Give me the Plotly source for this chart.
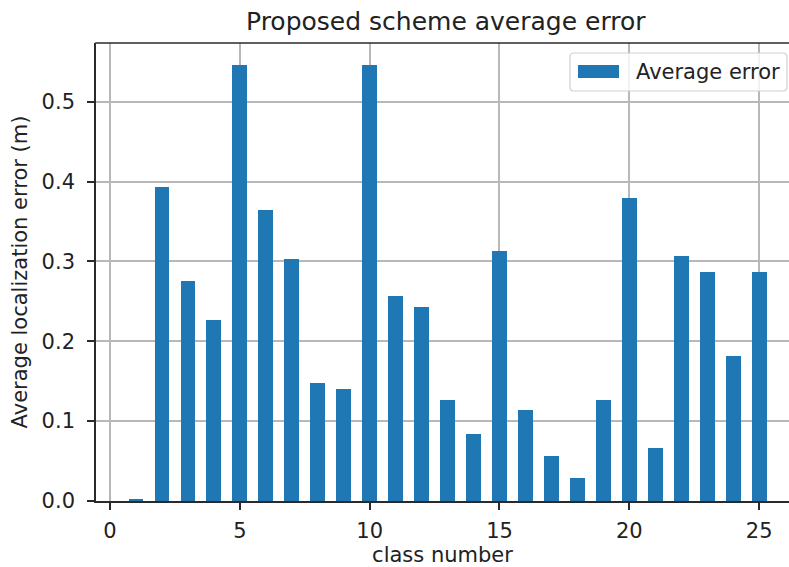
import plotly.graph_objects as go

# Average localization error per class
class_numbers = list(range(1, 26))
avg_error = [0.003, 0.393, 0.276, 0.227, 0.546, 0.364, 0.303, 0.148, 0.140, 0.546,
             0.257, 0.243, 0.127, 0.084, 0.313, 0.114, 0.056, 0.029, 0.127, 0.379,
             0.066, 0.307, 0.287, 0.182, 0.287]
x_ticks = [0, 5, 10, 15, 20, 25]
y_ticks = [0.0, 0.1, 0.2, 0.3, 0.4, 0.5]

W, H = 789, 567
L, R, T, B = 96, 0, 43, 66
PW, PH = W - L - R, H - T - B
FONT = "DejaVu Sans"
TXT = "#222222"
BLUE = "#1f77b4"
AXIS = "#2a2a2a"
FS = 21


def px(xp):
    return (xp - L) / PW


def py(yp):
    return (H - B - yp) / PH


def rounded_rect(x0, y0, x1, y1, r):
    # SVG path in paper coordinates for a rectangle with rounded corners (pixel inputs)
    pts = [
        f"M {px(x0 + r)} {py(y0)}",
        f"L {px(x1 - r)} {py(y0)}",
        f"Q {px(x1)} {py(y0)} {px(x1)} {py(y0 + r)}",
        f"L {px(x1)} {py(y1 - r)}",
        f"Q {px(x1)} {py(y1)} {px(x1 - r)} {py(y1)}",
        f"L {px(x0 + r)} {py(y1)}",
        f"Q {px(x0)} {py(y1)} {px(x0)} {py(y1 - r)}",
        f"L {px(x0)} {py(y0 + r)}",
        f"Q {px(x0)} {py(y0)} {px(x0 + r)} {py(y0)}",
        "Z",
    ]
    return " ".join(pts)


fig = go.Figure()
fig.add_trace(go.Bar(
    x=class_numbers, y=avg_error, width=0.57,
    marker=dict(color=BLUE, line=dict(width=0)),
    name="Average error", showlegend=False,
))

fig.update_layout(
    width=W, height=H,
    margin=dict(l=L, r=R, t=T, b=B, pad=0),
    paper_bgcolor="white", plot_bgcolor="white",
    font=dict(family=FONT, size=FS, color=TXT),
    bargap=0,
)

fig.update_xaxes(
    range=[-0.54, 26.15], tickvals=x_ticks, ticktext=[str(v) for v in x_ticks],
    showgrid=True, gridcolor="#b8b8b8", gridwidth=1.5,
    showline=True, linecolor=AXIS, linewidth=1.6, mirror=False,
    ticks="outside", ticklen=7, tickwidth=1.5, tickcolor=AXIS,
    ticklabelstandoff=3, zeroline=False,
    tickfont=dict(family=FONT, size=FS, color=TXT),
    title=dict(text="class number", font=dict(family=FONT, size=FS, color=TXT), standoff=2),
)
fig.update_yaxes(
    range=[0, 0.5735], tickvals=y_ticks, ticktext=[f"{v:.1f}" for v in y_ticks],
    showgrid=True, gridcolor="#b8b8b8", gridwidth=1.5,
    showline=True, linecolor=AXIS, linewidth=1.6, mirror=False,
    ticks="outside", ticklen=7, tickwidth=1.5, tickcolor=AXIS,
    ticklabelstandoff=8, zeroline=False,
    tickfont=dict(family=FONT, size=FS, color=TXT),
    title=dict(text="Average localization error (m)", font=dict(family=FONT, size=FS, color=TXT), standoff=8),
)

# Top spine (the right spine falls outside the page)
fig.add_shape(
    type="line", xref="paper", yref="paper",
    x0=px(L - 0.8), x1=1.0, y0=1.0, y1=1.0,
    line=dict(color=AXIS, width=1.6),
)

# Title
fig.add_annotation(
    text="Proposed scheme average error", xref="paper", yref="paper",
    x=px(446), y=py(21), xanchor="center", yanchor="middle", showarrow=False,
    font=dict(family=FONT, size=25, color=TXT),
)

# Legend box with a patch and label
fig.add_shape(
    type="path", xref="paper", yref="paper",
    path=rounded_rect(570, 53, 787, 91, 4),
    fillcolor="rgba(255,255,255,0.8)", line=dict(color="#d0d0d0", width=1.2),
)
fig.add_shape(
    type="rect", xref="paper", yref="paper",
    x0=px(578), x1=px(619), y0=py(78), y1=py(65),
    fillcolor=BLUE, line=dict(width=0),
)
fig.add_annotation(
    text="Average error", xref="paper", yref="paper",
    x=px(634), y=py(72), xanchor="left", yanchor="middle", showarrow=False,
    font=dict(family=FONT, size=FS, color=TXT),
)

fig.write_html("out.html")
